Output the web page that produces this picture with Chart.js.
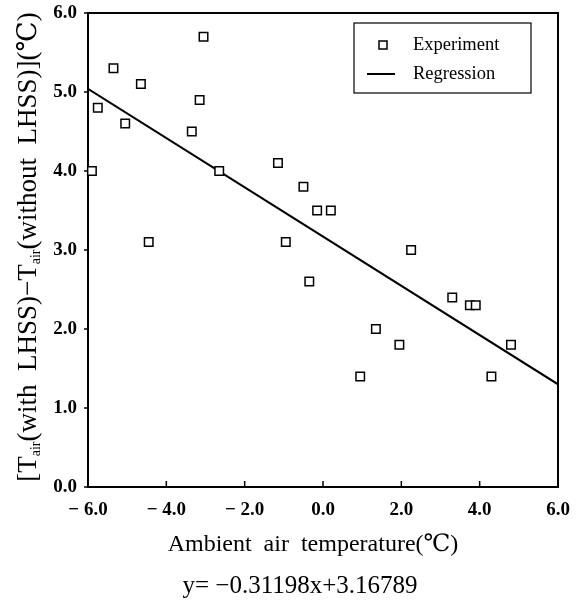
<!DOCTYPE html>
<html>
<head>
<meta charset="utf-8">
<script src="https://cdn.jsdelivr.net/npm/chart.js@4.4.1/dist/chart.umd.min.js"></script>
<style>
  html, body { margin: 0; padding: 0; background: #fff; }
  #wrap { width: 577px; height: 602px; }
</style>
</head>
<body>
<div id="wrap"><canvas id="grafico" width="577" height="602"></canvas></div>
<script>
// dati
const expX = [-5.9, -5.75, -5.35, -5.05, -4.65, -4.45, -3.35, -3.15, -3.05, -2.65, -1.15, -0.95, -0.5, -0.35, -0.15, 0.2, 0.95, 1.35, 1.95, 2.25, 3.3, 3.75, 3.9, 4.3, 4.8];
const expY = [4.0, 4.8, 5.3, 4.6, 5.1, 3.1, 4.5, 4.9, 5.7, 4.0, 4.1, 3.1, 3.8, 2.6, 3.5, 3.5, 1.4, 2.0, 1.8, 3.0, 2.4, 2.3, 2.3, 1.4, 1.8];
const regX = [-6.0, 6.0];
const regY = [5.04, 1.30];
const xTicks = ['− 6.0', '− 4.0', '− 2.0', '0.0', '2.0', '4.0', '6.0'];
const yTicks = ['0.0', '1.0', '2.0', '3.0', '4.0', '5.0', '6.0'];
const xTitle = 'Ambient  air  temperature(℃)';
const equazione = 'y= −0.31198x+3.16789';

const SERIF = '"Liberation Serif", "DejaVu Serif", serif';

// cornice, tacche, titoli e legenda
const decorazioni = {
  id: 'decorazioni',
  afterDraw(chart) {
    const ctx = chart.ctx;
    const a = chart.chartArea;
    const sx = chart.scales.x, sy = chart.scales.y;
    ctx.save();
    ctx.strokeStyle = '#000';
    ctx.fillStyle = '#000';

    // bordo superiore e destro
    ctx.lineWidth = 2;
    ctx.beginPath();
    ctx.moveTo(a.left, a.top);
    ctx.lineTo(a.right, a.top);
    ctx.lineTo(a.right, a.bottom);
    ctx.stroke();

    // tacche asse x (verso l'interno)
    ctx.lineWidth = 1.5;
    sx.ticks.forEach(t => {
      const px = sx.getPixelForValue(t.value);
      ctx.beginPath();
      ctx.moveTo(px, a.bottom);
      ctx.lineTo(px, a.bottom - 6);
      ctx.stroke();
    });
    // tacche asse y (verso l'esterno)
    sy.ticks.forEach(t => {
      const py = sy.getPixelForValue(t.value);
      ctx.beginPath();
      ctx.moveTo(a.left, py);
      ctx.lineTo(a.left - 4, py);
      ctx.stroke();
    });

    // titolo asse x ed equazione
    ctx.textAlign = 'center';
    ctx.textBaseline = 'middle';
    ctx.font = '24px ' + SERIF;
    ctx.fillText(xTitle, 313, 545);
    ctx.font = '25px ' + SERIF;
    ctx.fillText(equazione, 300, 586);

    // titolo asse y con pedici
    const pezzi = [
      { t: '[T' }, { t: 'air', sub: true }, { t: '(with  LHSS)−T' },
      { t: 'air', sub: true }, { t: '(without  LHSS)](℃)' }
    ];
    const fBase = '27px ' + SERIF, fSub = '14px ' + SERIF;
    let tot = 0;
    pezzi.forEach(p => { ctx.font = p.sub ? fSub : fBase; p.w = ctx.measureText(p.t).width; tot += p.w; });
    ctx.translate(27, 247);
    ctx.rotate(-Math.PI / 2);
    ctx.textAlign = 'left';
    ctx.textBaseline = 'alphabetic';
    let cx = -tot / 2;
    pezzi.forEach(p => {
      ctx.font = p.sub ? fSub : fBase;
      ctx.fillText(p.t, cx, p.sub ? 13 : 9);
      cx += p.w;
    });
    ctx.setTransform(1, 0, 0, 1, 0, 0);

    // legenda
    const ds = chart.data.datasets;
    ctx.lineWidth = 1.2;
    ctx.strokeRect(354, 23, 177, 70);
    ctx.lineWidth = 1.5;
    ctx.strokeRect(379, 41, 8, 8);
    ctx.lineWidth = 2;
    ctx.beginPath();
    ctx.moveTo(367, 74);
    ctx.lineTo(395, 74);
    ctx.stroke();
    ctx.font = '18.5px ' + SERIF;
    ctx.textAlign = 'left';
    ctx.textBaseline = 'middle';
    ctx.fillText(ds[0].label, 413, 45);
    ctx.fillText(ds[1].label, 413, 74);
    ctx.restore();
  }
};

const ctx = document.getElementById('grafico').getContext('2d');
new Chart(ctx, {
  type: 'scatter',
  data: {
    datasets: [{
      label: 'Experiment',
      data: expX.map((x, i) => ({ x: x, y: expY[i] })),
      pointStyle: 'rect',
      pointRadius: 6,
      pointBorderWidth: 1.5,
      pointBorderColor: '#000',
      pointBackgroundColor: '#fff',
      showLine: false,
      clip: false
    }, {
      label: 'Regression',
      type: 'line',
      data: regX.map((x, i) => ({ x: x, y: regY[i] })),
      borderColor: '#000',
      borderWidth: 2,
      pointRadius: 0,
      fill: false
    }]
  },
  options: {
    responsive: false,
    animation: false,
    layout: { padding: { top: 13, right: 19, left: 0, bottom: 0 } },
    plugins: { legend: { display: false }, tooltip: { enabled: false } },
    scales: {
      x: {
        type: 'linear',
        min: -6, max: 6,
        afterFit: s => { s.height = 115; s.paddingLeft = 0; s.paddingRight = 0; },
        afterBuildTicks: s => { s.ticks = xTicks.map((l, i) => ({ value: -6 + 2 * i })); },
        ticks: {
          color: '#000',
          padding: 4,
          font: { family: SERIF, size: 19, weight: 'bold' },
          callback: (v, i) => xTicks[i]
        },
        grid: { display: false },
        border: { display: true, color: '#000', width: 2 }
      },
      y: {
        min: 0, max: 6,
        afterFit: s => { s.width = 88; s.paddingTop = 0; s.paddingBottom = 0; },
        afterBuildTicks: s => { s.ticks = yTicks.map((l, i) => ({ value: i })); },
        ticks: {
          color: '#000',
          padding: 3,
          font: { family: SERIF, size: 19, weight: 'bold' },
          callback: (v, i) => yTicks[i]
        },
        grid: { display: false },
        border: { display: true, color: '#000', width: 2 }
      }
    }
  },
  plugins: [decorazioni]
});
</script>
</body>
</html>
